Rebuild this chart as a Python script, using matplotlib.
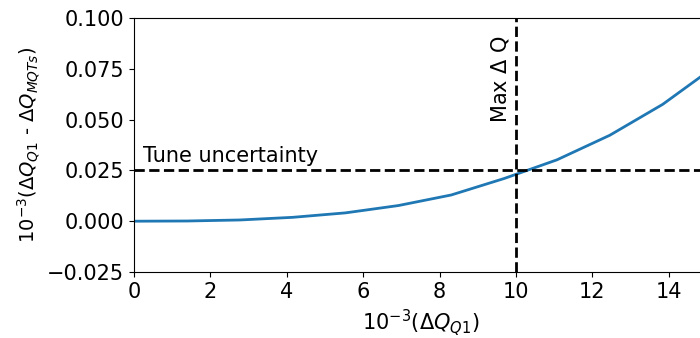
import matplotlib
matplotlib.use('Agg')
import matplotlib.pyplot as plt

# tune shift from Q1 vs. difference to MQTs estimate
dq_q1 = [0, 1.384, 2.768, 4.152, 5.536, 6.92, 8.304, 9.688, 11.072, 12.456, 13.84, 15.224]
dq_diff = [0, 0.0001, 0.0006, 0.0019, 0.0041, 0.0077, 0.0129, 0.0210, 0.0302, 0.0423, 0.0575, 0.0764]

tune_unc = 0.025
max_dq = 10

plt.rcParams['font.size'] = 15
fig = plt.figure(figsize=(7, 3.38), dpi=100)
ax = fig.add_axes([134 / 700, 1 - 272 / 338, 1 - 134 / 700 + 0.01, (272 - 18) / 338])

ax.plot(dq_q1, dq_diff, color='#1f77b4', linewidth=2)
ax.axhline(tune_unc, color='k', linestyle='--', linewidth=2)
ax.axvline(max_dq, color='k', linestyle='--', linewidth=2)
ax.text(0.24, 0.029, 'Tune uncertainty')
ax.text(9.3, 0.0505, 'Max $\\Delta$ Q', rotation=90)

ax.set_xlim(0, 15.0)
ax.set_ylim(-0.025, 0.1)
ax.set_xticks([0, 2, 4, 6, 8, 10, 12, 14])
ax.set_yticks([-0.025, 0, 0.025, 0.05, 0.075, 0.1])
ax.set_xlabel('$10^{-3}(\\Delta Q_{Q1})$')
ax.set_ylabel('$10^{-3}(\\Delta Q_{Q1}$ - $\\Delta Q_{MQTs})$', fontsize=14)

fig.savefig('out.png', dpi=100)
